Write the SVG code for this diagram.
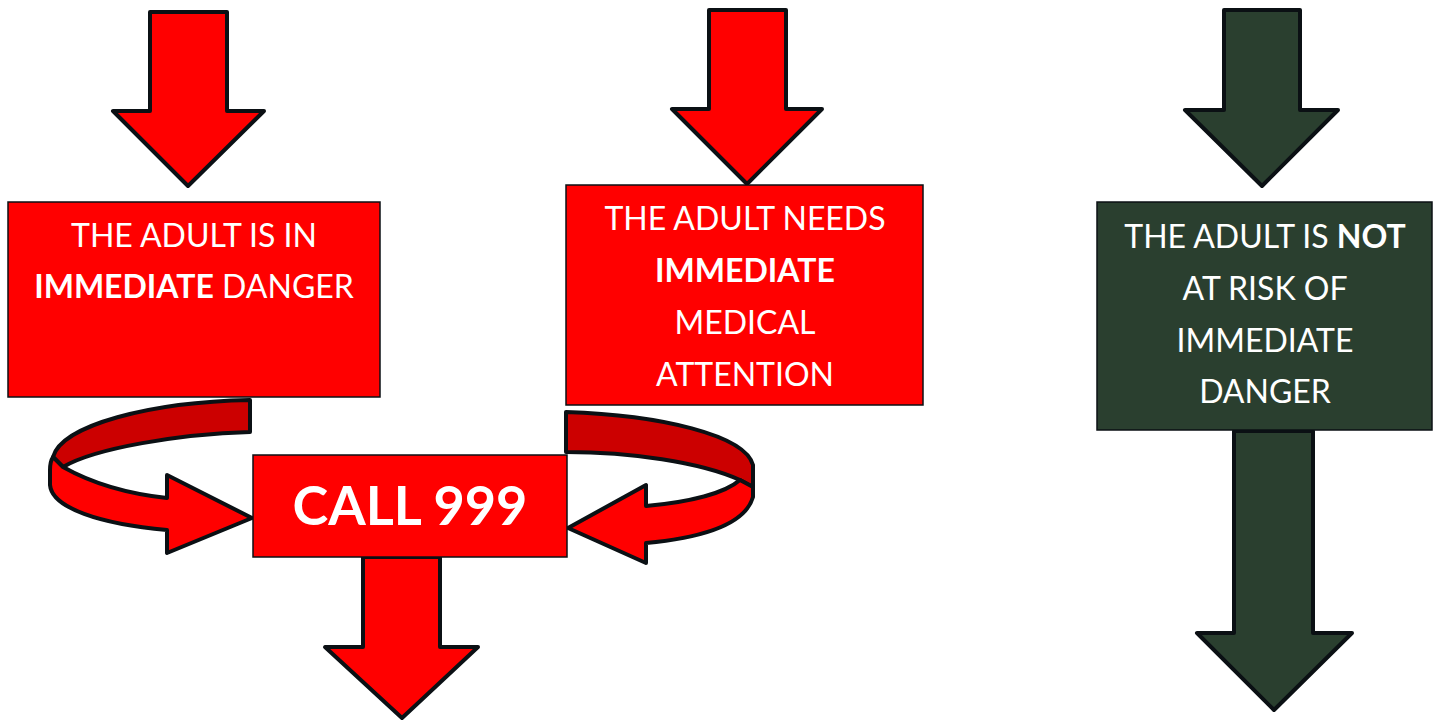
<svg xmlns="http://www.w3.org/2000/svg" width="1440" height="721" viewBox="0 0 1440 721">
<style>
.box{stroke:#0b1014;stroke-width:1.5}
.red{fill:#ff0000}
.dred{fill:#cc0000}
.grn{fill:#2a3f2f}
.arr{stroke:#0b1014;stroke-width:4;stroke-linejoin:round}
text{font-family:Lato,"Open Sans","Liberation Sans",sans-serif;fill:#ffffff;text-anchor:middle;font-size:32px}
.b{font-weight:bold}
</style>
<rect width="1440" height="721" fill="#ffffff"/>
<g id="connectors">
<path class="arr red" d="M150,12 L227,12 L227,111 L264,111 L188,186 L113,111 L150,111 Z"/>
<path class="arr red" d="M709,10 L786,10 L786,109 L822,109 L747,184 L672,109 L709,109 Z"/>
<path class="arr grn" d="M1224,10 L1300,10 L1300,110 L1338,110 L1262,186 L1185,110 L1224,110 Z"/>
<path class="arr grn" d="M1234,431 L1313,431 L1313,633 L1352,633 L1274,710 L1197,633 L1234,633 Z"/>
<path class="arr red" d="M363,557 L440,557 L440,647 L478,647 L402,718 L325,647 L363,647 Z"/>
<path class="arr dred" d="M250,400 L250,432 C180,434 95,448 63,467 L53,457 C62,425 150,402 250,400 Z"/>
<path class="arr red" d="M53,457 L63,467 C95,485 130,494 167,498 L167,475 L252,518 L167,553 L167,530 C100,524 52,508 50,485 L50,470 C50,465 51,460 53,457 Z"/>
<path class="arr dred" d="M566,412 C660,415 745,435 753,465 L753,487 L740,480 C700,462 630,452 566,452 Z"/>
<path class="arr red" d="M740,480 L753,487 L753,497 C745,525 700,538 646,543 L646,563 L568,528 L646,485 L646,506 C690,502 725,493 740,480 Z"/>
</g>
<g id="node-danger">
<rect class="box red" x="8" y="202" width="372" height="195"/>
<text x="194" y="247">THE ADULT IS IN</text>
<text x="194" y="298"><tspan class="b">IMMEDIATE</tspan> DANGER</text>
</g>
<g id="node-medical">
<rect class="box red" x="566" y="185" width="357" height="220"/>
<text x="745" y="230">THE ADULT NEEDS</text>
<text x="745" y="282" class="b">IMMEDIATE</text>
<text x="745" y="334">MEDICAL</text>
<text x="745" y="386">ATTENTION</text>
</g>
<g id="node-notrisk">
<rect class="box grn" x="1097" y="202" width="335" height="228"/>
<text x="1265" y="248">THE ADULT IS <tspan class="b">NOT</tspan></text>
<text x="1265" y="300">AT RISK OF</text>
<text x="1265" y="352">IMMEDIATE</text>
<text x="1265" y="403">DANGER</text>
</g>
<g id="node-call">
<rect class="box red" x="253" y="455" width="314" height="102"/>
<text x="410" y="525" class="b" style="font-size:54px">CALL 999</text>
</g>
</svg>
